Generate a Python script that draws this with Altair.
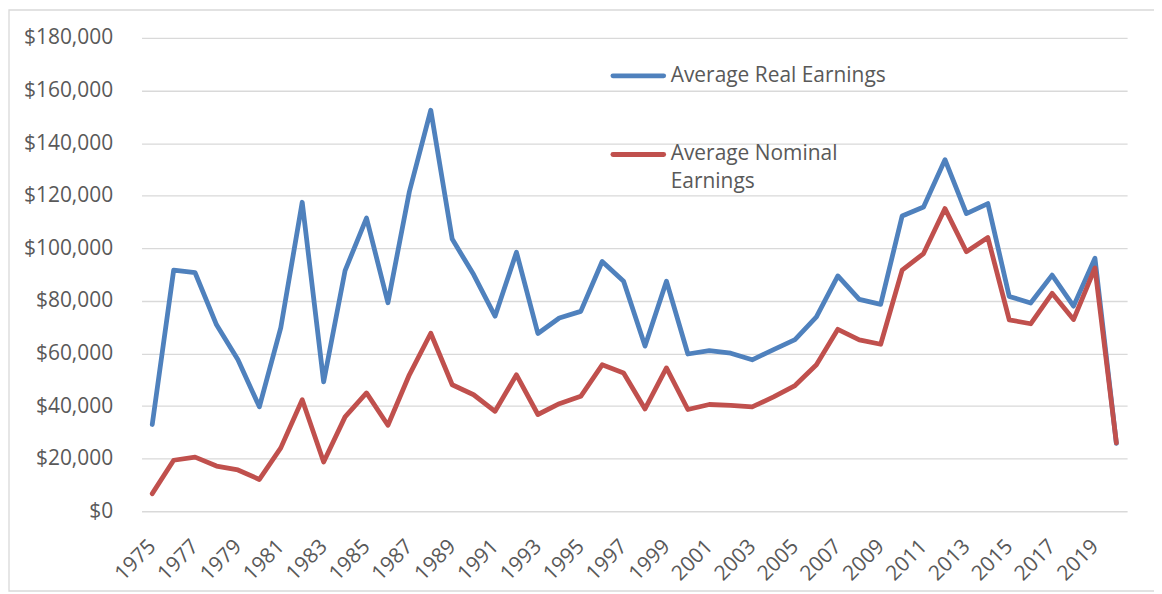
import altair as alt
import pandas as pd

years = list(range(1975, 2021))
real_earnings = [
    33000, 91700, 90700, 70900, 57600, 39700, 69800, 117500, 49200, 91500,
    111500, 79300, 121500, 152500, 103500, 90000, 74200, 98500, 67600, 73500,
    76000, 95000, 87500, 62800, 87500, 59800, 61100, 60100, 57600, 61500,
    65300, 73900, 89500, 80600, 78700, 112300, 115700, 133700, 113200, 117000,
    81700, 79200, 89800, 78000, 96200, 25800,
]
nominal_earnings = [
    6700, 19400, 20600, 17200, 15700, 12100, 24100, 42400, 18700, 35900,
    45000, 32700, 51900, 67700, 48100, 44300, 38000, 51900, 36800, 40900,
    43700, 55700, 52600, 38900, 54500, 38700, 40600, 40300, 39700, 43500,
    47800, 55700, 69200, 65200, 63500, 91700, 98000, 115100, 98700, 104100,
    72800, 71300, 82900, 72900, 92500, 26000,
]
series_names = ["Average Real Earnings", "Average Nominal Earnings"]
series_colors = ["#4F81BD", "#C0504D"]
legend_lines = [["Average Real Earnings"], ["Average Nominal", "Earnings"]]
y_ticks = list(range(0, 180001, 20000))
x_label_years = [y for y in years if y % 2 == 1]

df = pd.DataFrame({
    "year": years * 2,
    "value": real_earnings + nominal_earnings,
    "series": [series_names[0]] * len(years) + [series_names[1]] * len(years),
})
legend_df = pd.DataFrame({"series": series_names})

FONT = "Open Sans"
TXT = "#595959"
GRID = "#D9D9D9"
FS = 21

color_enc = alt.Color("series:N", scale=alt.Scale(domain=series_names, range=series_colors), legend=None)

lines = alt.Chart(df).mark_line(strokeWidth=4.8, strokeJoin="round", strokeCap="round").encode(
    x=alt.X("year:O", scale=alt.Scale(type="point", padding=0.5),
            axis=alt.Axis(values=x_label_years, title=None, labelAngle=315, labelAlign="right",
                          labelBaseline="middle", labelPadding=32, labelFontSize=FS, labelFont=FONT,
                          labelColor=TXT, domain=False, ticks=False, grid=False)),
    y=alt.Y("value:Q", scale=alt.Scale(domain=[0, 180000], nice=False),
            axis=alt.Axis(values=y_ticks, format="$,.0f", title=None, labelFontSize=FS, labelFont=FONT,
                          labelColor=TXT, labelPadding=29, domain=False, ticks=False,
                          gridColor=GRID, gridWidth=1.3)),
    color=color_enc,
    order=alt.Order("year:O"),
)

border = alt.Chart(legend_df).transform_filter(alt.datum.series == series_names[0]).mark_rect(
    fill=None, stroke=GRID, strokeWidth=1.3
).encode(x=alt.value(-133), x2=alt.value(1100), y=alt.value(-28), y2=alt.value(555))

layers = [border, lines]
legend_y = [38, 117]
for name, lbls, y0 in zip(series_names, legend_lines, legend_y):
    base = alt.Chart(legend_df).transform_filter(alt.datum.series == name)
    layers.append(base.mark_rule(strokeWidth=4.8, strokeCap="round").encode(
        x=alt.value(473), x2=alt.value(524), y=alt.value(y0), color=color_enc))
    for i, line in enumerate(lbls):
        layers.append(base.mark_text(align="left", baseline="middle", fontSize=FS, font=FONT,
                                     color=TXT, text=line).encode(
            x=alt.value(531), y=alt.value(y0 + i * 28)))

chart = alt.layer(*layers).properties(
    width=989, height=475,
    autosize=alt.AutoSizeParams(type="none"),
    padding={"left": 134, "top": 29, "right": 27, "bottom": 80},
    background="white",
).configure_view(stroke=None)

chart.save("out.html", embed_options={"renderer": "svg", "actions": False})
